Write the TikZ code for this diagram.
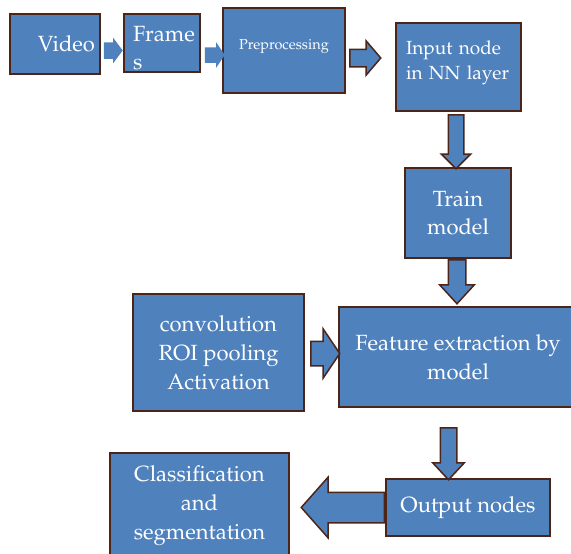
\documentclass[tikz,border=0pt]{standalone}
\usepackage[T1]{fontenc}
\usepackage{mathpazo}
\usepackage{xcolor}
\usepackage{tikz}
\usetikzlibrary{shapes.arrows,positioning}

\definecolor{boxblue}{HTML}{4F81BD}
\definecolor{boxedge}{HTML}{4D2418}

\tikzset{
  box/.style={draw=boxedge, fill=boxblue, line width=2pt, text=white, inner sep=0pt,
    align=center, font=\fontsize{22}{29}\selectfont},
  blk/.style={single arrow, draw=boxedge, fill=boxblue, line width=1.5pt,
    minimum width=0pt, anchor=tail},
}

\begin{document}
\begin{tikzpicture}[x=1pt,y=-1pt]
        \useasboundingbox (0,0) rectangle (571,554);
        % Top row
        \node[box, minimum width=90pt, minimum height=60pt, text width=80pt, align=right] (video) at (55,44) {Video};
        \node[box, minimum width=76pt, minimum height=58pt, text width=58pt, align=left,
              font=\fontsize{22}{28}\selectfont, text height=26pt] (frames) at (162,43) {Frame\\s};
        \node[box, minimum width=122pt, minimum height=85pt, font=\fontsize{14.5}{18}\selectfont,
              text depth=11.5pt] (prep) at (284,50.5) {Preprocessing};
        \node[box, minimum width=125pt, minimum height=88pt, text width=105pt, align=left,
              font=\fontsize{19}{25}\selectfont, text depth=38pt] (input) at (458.5,67) {Input node\\in NN layer};
        % Right column
        \node[box, minimum width=106pt, minimum height=90pt, font=\fontsize{22}{28}\selectfont] (train) at (458,213) {Train\\model};
        \node[box, minimum width=238pt, minimum height=100pt] (feature) at (458,357) {Feature extraction by\\model};
        \node[box, minimum width=171pt, minimum height=117pt] (conv) at (218.5,352.5) {convolution\\ROI pooling\\Activation};
        \node[box, minimum width=164pt, minimum height=57pt] (output) at (468,507.5) {Output nodes};
        \node[box, minimum width=179pt, minimum height=106pt] (classif) at (199.5,506) {Classification\\and\\segmentation};
        % Block arrows
        \node[blk, draw=none, minimum height=19pt, inner xsep=0pt, inner ysep=7.5pt,
              single arrow head extend=4.5pt, single arrow tip angle=106] (a1) at (103,50.5) {};
        \node[blk, draw=none, minimum height=20pt, inner xsep=0pt, inner ysep=7pt,
              single arrow head extend=5pt, single arrow tip angle=112] (a2) at (204,55) {};
        \node[blk, minimum height=31pt, inner xsep=0pt, inner ysep=8pt,
              single arrow head extend=8.5pt, single arrow tip angle=99] (a3) at (349,58) {};
        \node[blk, shape border rotate=270, minimum height=54pt, inner sep=7pt,
              single arrow head extend=7pt, single arrow tip angle=90] (a4) at (456,114) {};
        \node[blk, shape border rotate=270, minimum height=44pt, inner sep=8pt,
              single arrow head extend=8.5pt, single arrow tip angle=85] (a5) at (457,259) {};
        \node[blk, minimum height=29pt, inner xsep=0pt, inner ysep=11.5pt,
              single arrow head extend=12.5pt, single arrow tip angle=112] (a6) at (310,353.5) {};
        \node[blk, shape border rotate=270, minimum height=52pt, inner sep=7.5pt,
              single arrow head extend=7.5pt, single arrow tip angle=86] (a7) at (448.5,427) {};
        \node[blk, shape border rotate=180, minimum height=83pt, inner sep=14.5pt,
              single arrow head extend=15pt, single arrow tip angle=97] (a8) at (output.west) {};
\end{tikzpicture}
\end{document}
